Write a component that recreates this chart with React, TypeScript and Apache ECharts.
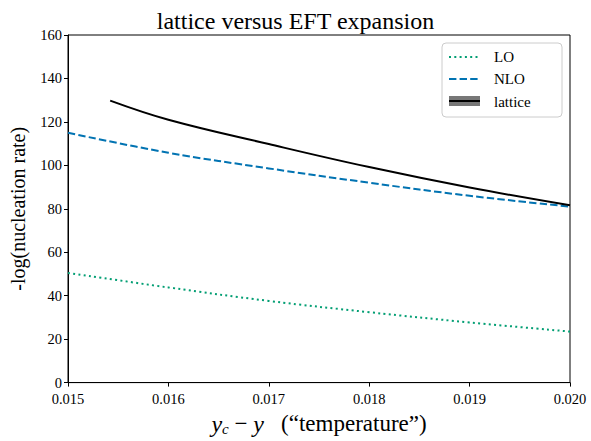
import React, { useEffect, useRef } from "react";
import * as echarts from "echarts";

const xLO = [0.015, 0.016, 0.017, 0.018, 0.019, 0.02];
const yLO = [50.5, 43.8, 37.6, 32.4, 27.7, 23.5];
const xNLO = [0.015, 0.016, 0.017, 0.018, 0.019, 0.02];
const yNLO = [115, 105.8, 98.6, 92.0, 86.0, 81.0];
const xLat = [0.01542, 0.016, 0.017, 0.018, 0.019, 0.02];
const yLat = [129.8, 121.0, 109.8, 99.2, 89.8, 81.6];
const legendNames = ["LO", "NLO", "lattice"];

const SERIF = "'Liberation Serif', serif";
const GREEN = "#029e73";
const BLUE = "#0173b2";

export default function App() {
  const ref = useRef<HTMLDivElement>(null);
  useEffect(() => {
    const chart = echarts.init(ref.current!, null, { renderer: "svg" });
    const zip = (xs: number[], ys: number[]) => xs.map((x, i) => [x, ys[i]]);
    chart.setOption({
      animation: false,
      backgroundColor: "#fff",
      title: {
        text: "lattice versus EFT expansion",
        left: "center",
        top: 4,
        textStyle: { fontFamily: SERIF, fontWeight: "normal", fontSize: 24, color: "#000" },
      },
      grid: { left: 68, right: 21, top: 35, bottom: 52, show: true, borderColor: "#000", borderWidth: 1, backgroundColor: "transparent" },
      xAxis: {
        type: "value",
        min: 0.015,
        max: 0.02,
        interval: 0.001,
        name: "{i|y}{s|c} − {i|y}   (“temperature”)",
        nameLocation: "middle",
        nameGap: 28,
        nameTextStyle: {
          fontFamily: SERIF,
          fontSize: 23,
          color: "#000",
          rich: {
            i: { fontFamily: SERIF, fontStyle: "italic", fontSize: 24, color: "#000" },
            s: { fontFamily: SERIF, fontStyle: "italic", fontSize: 15, color: "#000", verticalAlign: "bottom", padding: [10, 0, 0, 0] },
          },
        },
        axisLine: { show: true, lineStyle: { color: "#000", width: 1 } },
        axisTick: { show: true, inside: false, length: 4, lineStyle: { color: "#000" } },
        splitLine: { show: false },
        axisLabel: {
          fontFamily: SERIF,
          fontSize: 14.5,
          color: "#000",
          margin: 9,
          formatter: (v: number) => v.toFixed(3),
        },
      },
      yAxis: {
        type: "value",
        min: 0,
        max: 160,
        interval: 20,
        name: "-log(nucleation rate)",
        nameLocation: "middle",
        nameGap: 40,
        nameTextStyle: { fontFamily: SERIF, fontSize: 20, color: "#000" },
        axisLine: { show: true, lineStyle: { color: "#000", width: 1 } },
        axisTick: { show: true, inside: false, length: 4, lineStyle: { color: "#000" } },
        splitLine: { show: false },
        axisLabel: { fontFamily: SERIF, fontSize: 14.5, color: "#000", margin: 6 },
      },
      series: [
        {
          name: legendNames[0],
          type: "line",
          data: zip(xLO, yLO),
          smooth: 0.4,
          showSymbol: false,
          lineStyle: { color: GREEN, width: 2, type: [2, 3.3] },
          z: 3,
        },
        {
          name: legendNames[1],
          type: "line",
          data: zip(xNLO, yNLO),
          smooth: 0.4,
          showSymbol: false,
          lineStyle: { color: BLUE, width: 2, type: [7.4, 3.2] },
          z: 3,
        },
        {
          name: legendNames[2],
          type: "line",
          data: zip(xLat, yLat),
          smooth: 0.4,
          showSymbol: false,
          lineStyle: { color: "#000", width: 2 },
          z: 4,
        },
      ],
      graphic: [
        {
          type: "rect",
          shape: { x: 442, y: 43, width: 120, height: 74, r: 4 },
          style: { fill: "rgba(255,255,255,0.8)", stroke: "#cccccc", lineWidth: 1 },
          z: 10,
        },
        {
          type: "line",
          shape: { x1: 449, y1: 57, x2: 479, y2: 57 },
          style: { stroke: GREEN, lineWidth: 2, lineDash: [2, 3.3] },
          z: 11,
        },
        {
          type: "line",
          shape: { x1: 449, y1: 79, x2: 479, y2: 79 },
          style: { stroke: BLUE, lineWidth: 2, lineDash: [7.4, 3.2] },
          z: 11,
        },
        {
          type: "rect",
          shape: { x: 449, y: 96, width: 31, height: 10 },
          style: { fill: "#777777" },
          z: 11,
        },
        {
          type: "line",
          shape: { x1: 449, y1: 101, x2: 480, y2: 101 },
          style: { stroke: "#000", lineWidth: 2 },
          z: 12,
        },
        { type: "text", x: 494, y: 57, style: { text: legendNames[0], fontFamily: SERIF, fontSize: 15, fill: "#000", verticalAlign: "middle" }, z: 11 },
        { type: "text", x: 494, y: 79, style: { text: legendNames[1], fontFamily: SERIF, fontSize: 15, fill: "#000", verticalAlign: "middle" }, z: 11 },
        { type: "text", x: 494, y: 102, style: { text: legendNames[2], fontFamily: SERIF, fontSize: 15, fill: "#000", verticalAlign: "middle" }, z: 11 },
      ],
    });
    return () => chart.dispose();
  }, []);
  return <div ref={ref} style={{ width: 591, height: 441, position: "absolute", left: 0, top: 0 }} />;
}
